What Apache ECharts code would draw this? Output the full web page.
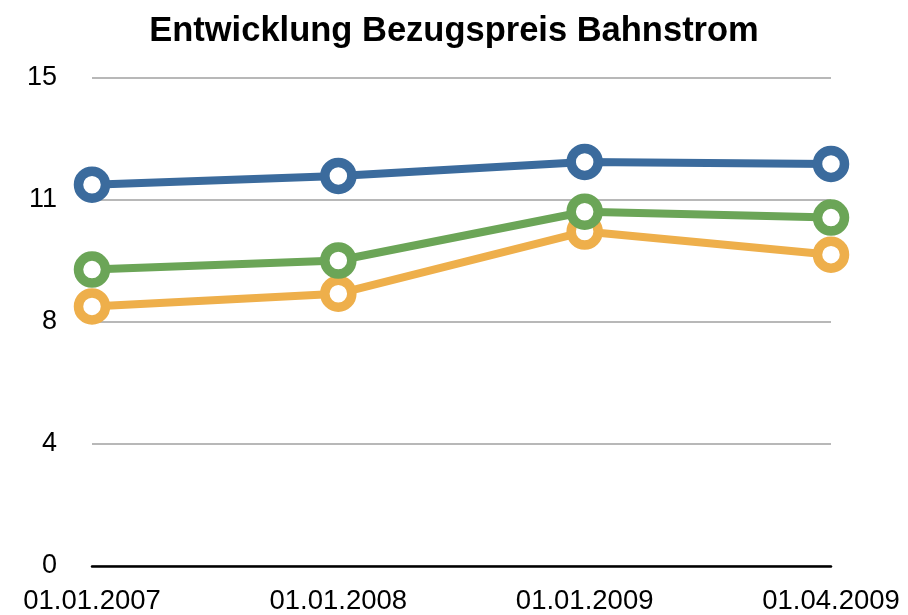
<!DOCTYPE html>
<html>
<head>
<meta charset="utf-8">
<script src="https://cdn.jsdelivr.net/npm/echarts@6/dist/echarts.min.js"></script>
<style>
html,body{margin:0;padding:0;background:#fff;}
#chart{width:908px;height:615px;}
</style>
</head>
<body>
<div id="chart"></div>
<script>
const title = 'Entwicklung Bezugspreis Bahnstrom';
const categories = ['01.01.2007', '01.01.2008', '01.01.2009', '01.04.2009'];
const seriesOrange = [7.98, 8.37, 10.28, 9.57];
const seriesGreen = [9.11, 9.39, 10.89, 10.71];
const seriesBlue = [11.72, 11.99, 12.42, 12.36];
const yMin = 0, yMax = 15, yInterval = 3.75;

const chart = echarts.init(document.getElementById('chart'), null, {renderer: 'canvas'});
const font = '"Liberation Sans", Arial, Helvetica, sans-serif';

function mkSeries(data, color) {
  return {
    type: 'line',
    data: data,
    symbol: 'circle',
    symbolSize: 27,
    lineStyle: {color: color, width: 8},
    itemStyle: {color: '#fff', borderColor: color, borderWidth: 9.5},
    emphasis: {disabled: true},
    animation: false
  };
}

chart.setOption({
  animation: false,
  backgroundColor: '#fff',
  title: {
    text: title,
    left: 'center',
    top: 9,
    textStyle: {fontFamily: font, fontSize: 34.5, fontWeight: 'bold', color: '#000'}
  },
  grid: {left: 92, right: 77, top: 78, bottom: 48, containLabel: false},
  xAxis: {
    type: 'category',
    data: categories,
    boundaryGap: false,
    axisLine: {lineStyle: {color: '#000', width: 2.5}},
    axisTick: {show: false},
    axisLabel: {fontFamily: font, fontSize: 27.5, color: '#000', margin: 21, interval: 0},
    splitLine: {show: false}
  },
  yAxis: {
    type: 'value',
    min: yMin, max: yMax, interval: yInterval,
    axisLine: {show: false},
    axisTick: {show: false},
    axisLabel: {fontFamily: font, fontSize: 27, color: '#000', margin: 35,
      padding: [6, 0, 0, 0],
      formatter: v => String(Math.round(v))},
    splitLine: {lineStyle: {color: '#b8b8b8', width: 2}}
  },
  series: [
    mkSeries(seriesOrange, '#EEAF4B'),
    mkSeries(seriesGreen, '#6BA557'),
    mkSeries(seriesBlue, '#3B6B9D')
  ]
});
</script>
</body>
</html>
